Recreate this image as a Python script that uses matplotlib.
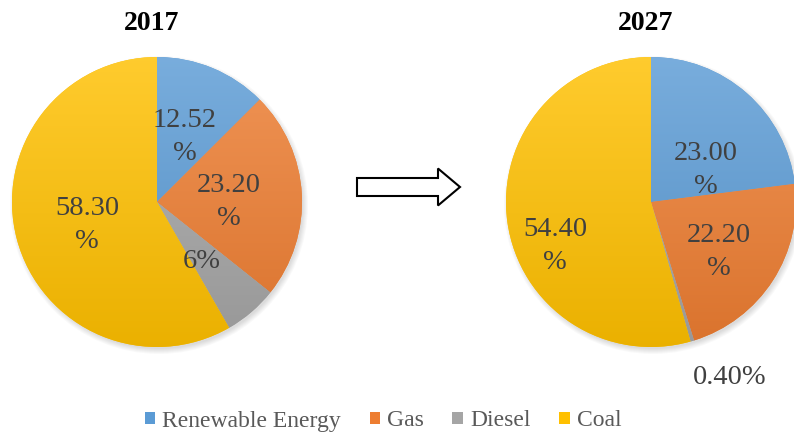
import numpy as np
import matplotlib.pyplot as plt
from matplotlib.patches import Patch, FancyArrow, Circle
from matplotlib.colors import to_rgb

plt.rcParams['font.family'] = ['Liberation Serif', 'DejaVu Serif']

sources = ['Renewable Energy', 'Gas', 'Diesel', 'Coal']
share_2017 = [12.52, 23.20, 6, 58.30]
share_2027 = [23.00, 22.20, 0.40, 54.40]
labels_2017 = ['12.52\n%', '23.20\n%', '6%', '58.30\n%']
labels_2027 = ['23.00\n%', '22.20\n%', '0.40%', '54.40\n%']
colors = ['#5B9BD5', '#ED7D31', '#A5A5A5', '#FFC000']

# label offsets from the pie centre, in pixels
offsets_2017 = [(28, 65), (72, 0), (45, -60), (-70, -23)]
offsets_2027 = [(55, 32), (68, -50), (79, -175), (-96, -44)]

W, H = 794, 433
R = 145


def shade(c, f):
    c = np.array(to_rgb(c))
    if f > 0:
        return c + (1 - c) * f
    return c * (1 + f)


def gradient_pie(ax, values, center, labels, offsets, title):
    cx, cy = center
    # soft shadow
    for k in range(6):
        ax.add_patch(Circle((cx + 2, cy - 3), R + 4 - k, color='black',
                            alpha=0.025, lw=0, zorder=0))
    wedges, _ = ax.pie(values, colors=colors, startangle=90, counterclock=False,
                       radius=R, center=center, frame=True,
                       wedgeprops=dict(linewidth=0))
    for w, c in zip(wedges, colors):
        top, bottom = shade(c, 0.18), shade(c, -0.08)
        t = np.linspace(0, 1, 256)[:, None, None]
        img = top * (1 - t) + bottom * t
        img = np.repeat(img, 2, axis=1)
        im = ax.imshow(img, extent=(cx - R, cx + R, cy - R, cy + R),
                       origin='upper', aspect='auto', zorder=2)
        im.set_clip_path(w)
    for lab, (dx, dy) in zip(labels, offsets):
        ax.text(cx + dx, cy + dy, lab, ha='center', va='center',
                fontsize=20.5, color='#404040', linespacing=1.4, zorder=3)
    ax.text(cx - 5, H - 24, title, ha='center', va='center',
            fontsize=20, fontweight='bold', color='black')


fig = plt.figure(figsize=(W / 100, H / 100), dpi=100)
ax = fig.add_axes([0, 0, 1, 1])

gradient_pie(ax, share_2017, (157, H - 202), labels_2017, offsets_2017, '2017')
gradient_pie(ax, share_2027, (651, H - 202), labels_2027, offsets_2027, '2027')

ax.add_patch(FancyArrow(357, H - 187, 103, 0, width=18, head_width=37,
                        head_length=22, length_includes_head=True,
                        fc='white', ec='black', lw=1.5, zorder=3))

ax.set_xlim(0, W)
ax.set_ylim(0, H)
ax.set_aspect('equal')
ax.axis('off')

handles = [Patch(facecolor=c, edgecolor='none') for c in colors]
fig.legend(handles, sources, loc='center', bbox_to_anchor=(383 / W, 1 - 421 / H),
           ncol=4, frameon=False, prop=dict(family='Liberation Serif', size=17),
           labelcolor='#595959',
           handlelength=0.45, handleheight=0.45, handletextpad=0.3,
           columnspacing=1.2, borderaxespad=0)

fig.savefig('out.png', dpi=100)
